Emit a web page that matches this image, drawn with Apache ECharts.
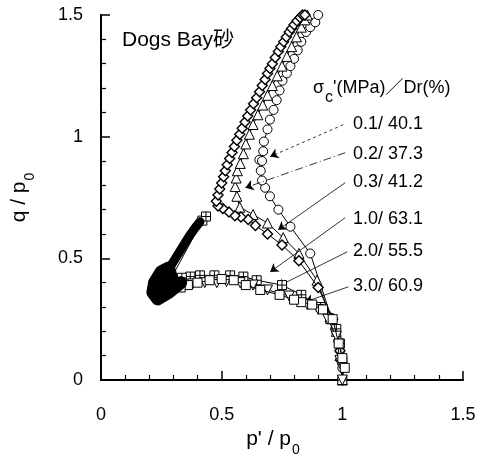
<!DOCTYPE html>
<html>
<head>
<meta charset="utf-8">
<script src="https://cdn.jsdelivr.net/npm/echarts@6/dist/echarts.min.js"></script>
<style>
  html, body { margin: 0; padding: 0; background: #fff; }
  #main { width: 488px; height: 472px; }
</style>
</head>
<body>
<div id="main"></div>
<script>
// p'/p0 and q/p0, one pair of arrays per test
const c01X = [1.00, 1.00, 0.99, 0.983, 0.97, 0.955, 0.867, 0.785, 0.735, 0.70, 0.68, 0.667, 0.662, 0.656, 0.667, 0.672, 0.675, 0.69, 0.70, 0.715, 0.728, 0.74, 0.752, 0.77, 0.785, 0.80, 0.815, 0.83, 0.85, 0.867, 0.888, 0.90];
const c01Y = [0.00, 0.05, 0.12, 0.16, 0.21, 0.255, 0.52, 0.63, 0.70, 0.755, 0.79, 0.82, 0.86, 0.905, 0.90, 0.94, 0.98, 1.03, 1.07, 1.11, 1.15, 1.19, 1.23, 1.26, 1.29, 1.32, 1.355, 1.39, 1.43, 1.45, 1.47, 1.50];

const t02X = [1.00, 0.99, 0.975, 0.95, 0.895, 0.82, 0.755, 0.69, 0.63, 0.575, 0.563, 0.556, 0.56, 0.565, 0.577, 0.59, 0.60, 0.615, 0.63, 0.65, 0.67, 0.69, 0.71, 0.73, 0.75, 0.77, 0.79, 0.81, 0.83, 0.845, 0.855];
const t02Y = [0.00, 0.10, 0.20, 0.26, 0.41, 0.52, 0.585, 0.645, 0.68, 0.71, 0.755, 0.795, 0.83, 0.86, 0.89, 0.93, 0.97, 1.01, 1.05, 1.09, 1.13, 1.17, 1.21, 1.25, 1.29, 1.33, 1.37, 1.41, 1.45, 1.48, 1.50];

const d03X = [1.00, 0.99, 0.96, 0.90, 0.82, 0.75, 0.69, 0.64, 0.61, 0.58, 0.555, 0.53, 0.505, 0.485, 0.478, 0.485, 0.492, 0.50, 0.508, 0.515, 0.523, 0.533, 0.543, 0.553, 0.563, 0.575, 0.585, 0.597, 0.608, 0.62, 0.632, 0.645, 0.657, 0.668, 0.68, 0.69, 0.70, 0.71, 0.722, 0.735, 0.745, 0.757, 0.768, 0.78, 0.79, 0.80, 0.812, 0.825, 0.835, 0.845];
const d03Y = [0.00, 0.12, 0.25, 0.38, 0.49, 0.555, 0.60, 0.635, 0.66, 0.67, 0.675, 0.69, 0.705, 0.715, 0.735, 0.76, 0.785, 0.81, 0.835, 0.86, 0.885, 0.91, 0.935, 0.96, 0.985, 1.01, 1.035, 1.06, 1.085, 1.11, 1.135, 1.16, 1.185, 1.21, 1.235, 1.26, 1.28, 1.30, 1.325, 1.35, 1.37, 1.39, 1.41, 1.43, 1.445, 1.46, 1.475, 1.49, 1.50, 1.50];

const s10X = [1.00, 1.00, 0.99, 0.975, 0.95, 0.91, 0.83, 0.75, 0.645, 0.59, 0.535, 0.47, 0.41, 0.37, 0.335, 0.30, 0.27, 0.42, 0.435];
const s10Y = [0.00, 0.08, 0.15, 0.21, 0.25, 0.30, 0.35, 0.39, 0.41, 0.425, 0.43, 0.43, 0.43, 0.425, 0.42, 0.40, 0.38, 0.655, 0.672];

const v20X = [1.00, 0.995, 0.99, 0.975, 0.94, 0.90, 0.855, 0.78, 0.69, 0.63, 0.577, 0.52, 0.48, 0.43, 0.38, 0.34, 0.286];
const v20Y = [0.00, 0.06, 0.08, 0.18, 0.25, 0.29, 0.31, 0.345, 0.37, 0.39, 0.40, 0.405, 0.40, 0.40, 0.395, 0.39, 0.43];

const r30X = [1.01, 1.00, 0.985, 0.96, 0.92, 0.875, 0.83, 0.80, 0.74, 0.66, 0.60, 0.55, 0.50, 0.45, 0.40, 0.36, 0.33];
const r30Y = [0.05, 0.09, 0.15, 0.25, 0.29, 0.31, 0.32, 0.33, 0.35, 0.37, 0.39, 0.41, 0.415, 0.41, 0.40, 0.39, 0.38];

// solid black cluster where the low-q points pile on top of each other
const blobX = [0.33, 0.28, 0.235, 0.215, 0.222, 0.25, 0.28, 0.295, 0.27, 0.245, 0.25, 0.29];
const blobY = [0.40, 0.36, 0.333, 0.36, 0.40, 0.445, 0.46, 0.41, 0.37, 0.375, 0.41, 0.395];
const armX = [0.265, 0.29, 0.315, 0.34, 0.365, 0.39, 0.41];
const armY = [0.43, 0.47, 0.51, 0.55, 0.59, 0.625, 0.65];

const testLabels = ['0.1/ 40.1', '0.2/ 37.3', '0.3/ 41.2', '1.0/ 63.1', '2.0/ 55.5', '3.0/ 60.9'];
const xTicks = [0, 0.5, 1, 1.5];
const yTicks = [0, 0.5, 1, 1.5];

// pointer lines from each label to its curve (data units)
const pointerFrom = [[1.004, 1.049], [1.012, 0.934], [1.012, 0.811], [1.012, 0.667], [1.021, 0.527], [1.025, 0.383]];
const pointerTo = [[0.701, 0.918], [0.598, 0.790], [0.734, 0.617], [0.701, 0.444], [0.730, 0.383], [0.846, 0.321]];
const pointerDash = [[3, 3], [8, 3, 1, 3], 'solid', 'solid', 'solid', 'solid'];

const zip = (xs, ys) => xs.map((x, i) => [x, ys[i]]);

const myChart = echarts.init(document.getElementById('main'), null, { renderer: 'canvas' });

const FONT = 'Liberation Sans, Arial, Helvetica, sans-serif';
const boxCross = 'path://M0,0H10V10H0Z M5,0V10 M0,5H10';

const curves = [
  { name: testLabels[0], data: zip(c01X, c01Y), symbol: 'circle', size: 9 },
  { name: testLabels[1], data: zip(t02X, t02Y), symbol: 'triangle', size: 10 },
  { name: testLabels[2], data: zip(d03X, d03Y), symbol: 'diamond', size: 10, border: 1.4 },
  { name: testLabels[3], data: zip(s10X, s10Y), symbol: boxCross, size: 9 },
  { name: testLabels[4], data: zip(v20X, v20Y), symbol: 'triangle', size: 10, rotate: 180 },
  { name: testLabels[5], data: zip(r30X, r30Y), symbol: 'rect', size: 9 }
];

const seriesData = curves.map((c, i) => ({
  name: c.name,
  type: 'line',
  data: c.data,
  symbol: c.symbol,
  symbolSize: c.size,
  symbolRotate: c.rotate || 0,
  showSymbol: true,
  lineStyle: { color: '#000', width: 1 },
  itemStyle: { color: '#fff', borderColor: '#000', borderWidth: c.border || 1 },
  z: 2 + i,
  markLine: {
    silent: true,
    symbol: ['none', 'arrow'],
    symbolSize: 8,
    label: { show: false },
    lineStyle: { color: '#000', width: 0.8, type: pointerDash[i] },
    data: [[{ coord: pointerFrom[i] }, { coord: pointerTo[i] }]]
  }
}));

const textLabels = testLabels.map((t, i) => ({
  type: 'text',
  left: 353,
  top: [115, 145, 173, 210, 242, 277][i],
  style: { text: t, font: '18px ' + FONT, fill: '#000' }
}));

const frameAxis = {
  type: 'value', min: 0, max: 1.5,
  axisLine: { show: true, lineStyle: { color: '#000', width: 2 } },
  axisTick: { show: false }, axisLabel: { show: false }, splitLine: { show: false }
};

const tickStyle = {
  axisLine: { show: true, lineStyle: { color: '#000', width: 2 } },
  axisTick: { show: true, inside: true, length: 9, lineStyle: { color: '#000', width: 1.5 } },
  minorTick: { show: true, splitNumber: 5, length: 5, lineStyle: { color: '#000', width: 1.2 } },
  splitLine: { show: false }
};

const nameRich = {
  a: { fontFamily: FONT, fontSize: 21, color: '#000', verticalAlign: 'top' },
  s: { fontFamily: FONT, fontSize: 14, color: '#000', padding: [14, 0, 0, 1] }
};

const option = {
  backgroundColor: '#fff',
  animation: false,
  grid: { left: 101, right: 25, top: 15, bottom: 92, show: false },
  xAxis: [{
    type: 'value',
    min: 0, max: 1.5, interval: 0.5,
    position: 'bottom',
    name: '{a|p\' / p}{s|0}',
    nameLocation: 'middle',
    nameGap: 46,
    nameTextStyle: { rich: nameRich, padding: [0, 18, 0, 0] },
    ...tickStyle,
    axisLabel: {
      margin: 26, fontFamily: FONT, fontSize: 18, color: '#000',
      formatter: v => (xTicks.indexOf(v) >= 0 ? String(v) : '')
    }
  }, { ...frameAxis, position: 'top' }],
  yAxis: [{
    type: 'value',
    min: 0, max: 1.5, interval: 0.5,
    position: 'left',
    name: '{a|q / p}{s|0}',
    nameLocation: 'middle',
    nameGap: 64,
    nameRotate: 90,
    nameTextStyle: { rich: nameRich },
    ...tickStyle,
    axisLabel: {
      margin: 18, fontFamily: FONT, fontSize: 18, color: '#000',
      formatter: v => (yTicks.indexOf(v) >= 0 ? String(v) : '')
    }
  }, { ...frameAxis, position: 'right' }],
  graphic: [
    {
      type: 'text', left: 122, top: 30,
      style: { text: 'Dogs Bay砂', font: '21px ' + FONT + ', Noto Sans CJK JP', fill: '#000' }
    },
    {
      type: 'text', left: 313, top: 79,
      style: {
        text: '{a|σ}{s|c}{a|\'(MPa)／Dr(%)}',
        rich: {
          a: { fontFamily: FONT + ', Noto Sans CJK JP', fontSize: 18, fill: '#000', verticalAlign: 'top' },
          s: { fontFamily: FONT, fontSize: 16, fill: '#000', padding: [11, 0, 0, 1] }
        }
      }
    },
    ...textLabels
  ],
  series: [
    ...seriesData,
    {
      name: 'blob',
      type: 'line',
      data: zip(blobX, blobY),
      showSymbol: false,
      symbol: 'none',
      lineStyle: { color: '#000', width: 13, cap: 'round', join: 'round' },
      z: 10
    },
    {
      name: 'arm',
      type: 'line',
      data: zip(armX, armY),
      showSymbol: false,
      symbol: 'none',
      lineStyle: { color: '#000', width: 9, cap: 'round', join: 'round' },
      z: 10
    }
  ]
};

myChart.setOption(option);
</script>
</body>
</html>
